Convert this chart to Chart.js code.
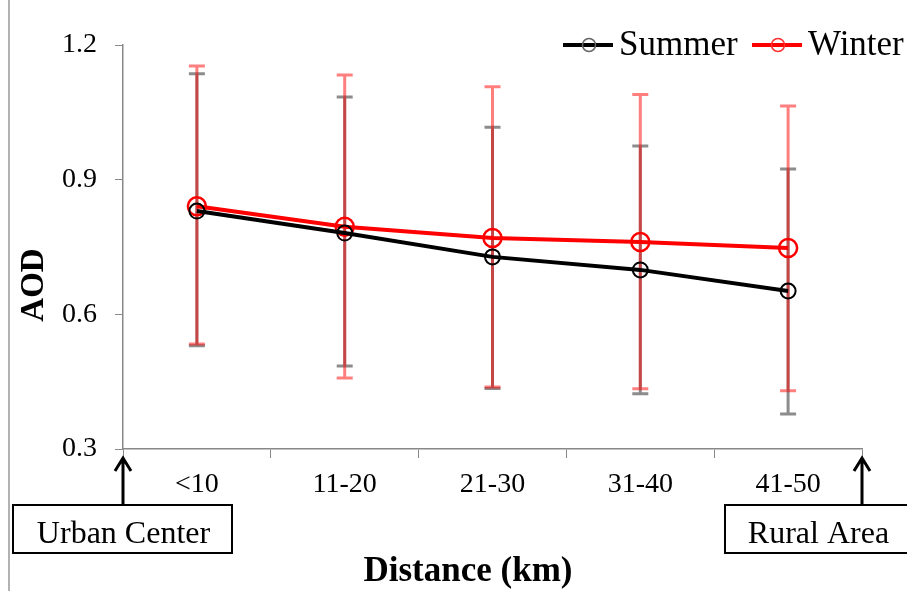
<!DOCTYPE html>
<html lang="en">
<head>
    <meta charset="UTF-8">
    <title>AOD vs Distance</title>
    <script src="https://cdn.jsdelivr.net/npm/chart.js@4.4.1/dist/chart.umd.min.js"></script>
    <style>
        body { margin: 0; padding: 0; background: #fff; }
        .chart-container { width: 907px; height: 591px; position: relative; }
    </style>
</head>
<body>
    <div class="chart-container">
        <canvas id="aodChart"></canvas>
    </div>

    <script>
        // values
        const categories = ['<10', '11-20', '21-30', '31-40', '41-50'];
        const summerMean = [0.830, 0.781, 0.728, 0.699, 0.652];
        const summerHigh = [1.136, 1.084, 1.017, 0.975, 0.924];
        const summerLow  = [0.530, 0.485, 0.435, 0.423, 0.378];
        const winterMean = [0.841, 0.795, 0.770, 0.761, 0.748];
        const winterHigh = [1.153, 1.133, 1.107, 1.090, 1.064];
        const winterLow  = [0.534, 0.458, 0.438, 0.434, 0.430];
        const yTicks = [0.3, 0.6, 0.9, 1.2];

        const serif = '"Liberation Serif", "Times New Roman", serif';

        function drawErrors(chart, low, high, color) {
            const ctx = chart.ctx;
            const xs = chart.scales.x, ys = chart.scales.y;
            ctx.save();
            ctx.strokeStyle = color;
            ctx.lineWidth = 3;
            low.forEach((lo, i) => {
                const x = xs.getPixelForValue(i);
                const yTop = ys.getPixelForValue(high[i]);
                const yBot = ys.getPixelForValue(lo);
                ctx.beginPath();
                ctx.moveTo(x, yTop);
                ctx.lineTo(x, yBot);
                ctx.moveTo(x - 8, yTop);
                ctx.lineTo(x + 8, yTop);
                ctx.moveTo(x - 8, yBot);
                ctx.lineTo(x + 8, yBot);
                ctx.stroke();
            });
            ctx.restore();
        }

        const overlay = {
            id: 'overlay',
            beforeDatasetsDraw(chart) {
                drawErrors(chart, summerLow, summerHigh, 'rgba(120,120,120,0.85)');
                drawErrors(chart, winterLow, winterHigh, 'rgba(255,0,0,0.5)');
            },
            afterDraw(chart) {
                const ctx = chart.ctx;
                const area = chart.chartArea;
                ctx.save();

                // outer frame line on the left
                ctx.strokeStyle = '#999';
                ctx.lineWidth = 1.5;
                ctx.beginPath();
                ctx.moveTo(9, 0);
                ctx.lineTo(9, 591);
                ctx.stroke();

                // axis titles
                ctx.fillStyle = '#000';
                ctx.textAlign = 'center';
                ctx.textBaseline = 'middle';
                ctx.font = 'bold 33px ' + serif;
                ctx.save();
                ctx.translate(34, 285);
                ctx.rotate(-Math.PI / 2);
                ctx.fillText('AOD', 0, 0);
                ctx.restore();
                ctx.font = 'bold 35px ' + serif;
                ctx.fillText('Distance (km)', 468, 572);

                // legend
                const items = chart.data.datasets.map((d, i) => ({
                    label: d.label, color: d.borderColor,
                    marker: i === 0 ? '#666' : '#ff3030',
                    x: i === 0 ? 563 : 752
                }));
                ctx.font = '35px ' + serif;
                items.forEach(it => {
                    const y = 45;
                    ctx.strokeStyle = it.color;
                    ctx.lineWidth = 4;
                    ctx.beginPath();
                    ctx.moveTo(it.x, y);
                    ctx.lineTo(it.x + 50, y);
                    ctx.stroke();
                    ctx.strokeStyle = it.marker;
                    ctx.lineWidth = 1.5;
                    ctx.beginPath();
                    ctx.arc(it.x + 26, y, 6.5, 0, 2 * Math.PI);
                    ctx.stroke();
                    ctx.fillStyle = '#000';
                    ctx.textAlign = 'left';
                    ctx.fillText(it.label, it.x + 56, y + 1);
                });

                // arrows and boxes
                const boxes = [
                    { text: 'Urban Center', ax: area.left, x0: 13, x1: 232 },
                    { text: 'Rural Area', ax: area.right, x0: 725, x1: 910 }
                ];
                boxes.forEach(b => {
                    ctx.strokeStyle = '#000';
                    ctx.lineWidth = 3;
                    ctx.beginPath();
                    ctx.moveTo(b.ax, 505);
                    ctx.lineTo(b.ax, area.bottom + 9);
                    ctx.moveTo(b.ax - 8, area.bottom + 22);
                    ctx.lineTo(b.ax, area.bottom + 9);
                    ctx.lineTo(b.ax + 8, area.bottom + 22);
                    ctx.stroke();
                    ctx.lineWidth = 2;
                    ctx.strokeRect(b.x0, 505, b.x1 - b.x0, 48);
                    ctx.fillStyle = '#000';
                    ctx.font = '32px ' + serif;
                    ctx.textAlign = 'center';
                    ctx.fillText(b.text, (b.x0 + b.x1) / 2 + 1, 535);
                });
                ctx.restore();
            }
        };

        new Chart(document.getElementById('aodChart'), {
            type: 'line',
            data: {
                labels: categories,
                datasets: [
                    {
                        label: 'Summer',
                        data: summerMean,
                        borderColor: '#000',
                        borderWidth: 4,
                        pointRadius: 7.5,
                        pointBorderWidth: 2,
                        pointBorderColor: '#000',
                        pointBackgroundColor: 'rgba(0,0,0,0)',
                        tension: 0
                    },
                    {
                        label: 'Winter',
                        data: winterMean,
                        borderColor: '#ff0000',
                        borderWidth: 4,
                        pointRadius: 9,
                        pointBorderWidth: 2.5,
                        pointBorderColor: '#ff0000',
                        pointBackgroundColor: 'rgba(0,0,0,0)',
                        tension: 0
                    }
                ]
            },
            options: {
                responsive: true,
                maintainAspectRatio: false,
                animation: false,
                events: [],
                layout: { padding: { top: 45, right: 45, left: 0, bottom: 0 } },
                plugins: {
                    legend: { display: false },
                    tooltip: { enabled: false }
                },
                scales: {
                    y: {
                        min: 0.3,
                        max: 1.2,
                        afterBuildTicks(scale) {
                            scale.ticks = yTicks.map(v => ({ value: v }));
                        },
                        afterFit(scale) { scale.width = 123; },
                        ticks: {
                            color: '#000',
                            padding: 18,
                            font: { family: serif, size: 28 },
                            callback: v => Number(v).toFixed(1)
                        },
                        grid: {
                            drawOnChartArea: false,
                            color: '#888',
                            tickLength: 8
                        },
                        border: { color: '#888', width: 1.5 }
                    },
                    x: {
                        offset: true,
                        afterFit(scale) { scale.height = 142; },
                        ticks: {
                            color: '#000',
                            padding: 10,
                            font: { family: serif, size: 28 }
                        },
                        grid: {
                            offset: true,
                            drawOnChartArea: false,
                            color: '#888',
                            tickLength: 9
                        },
                        border: { color: '#888', width: 1.5 }
                    }
                }
            },
            plugins: [overlay]
        });
    </script>
</body>
</html>
